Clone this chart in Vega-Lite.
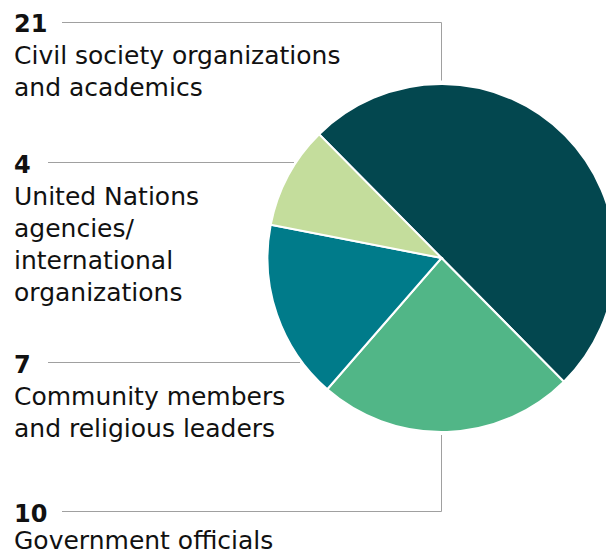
{
  "$schema": "https://vega.github.io/schema/vega-lite/v6.json",
  "width": 606,
  "height": 556,
  "autosize": "none",
  "padding": 0,
  "background": "white",
  "config": {"view": {"stroke": null}},
  "datasets": {
    "slices": [
      {"name": "Civil society organizations and academics", "label": ["Civil society organizations", "and academics"], "value": 21},
      {"name": "Government officials", "label": ["Government officials"], "value": 10},
      {"name": "Community members and religious leaders", "label": ["Community members", "and religious leaders"], "value": 7},
      {"name": "United Nations agencies/international organizations", "label": ["United Nations", "agencies/", "international", "organizations"], "value": 4}
    ]
  },
  "data": {"name": "slices"},
  "layer": [
    {
      "mark": {"type": "arc", "outerRadius": 174, "stroke": "white", "strokeWidth": 2},
      "encoding": {
        "theta": {"field": "value", "type": "quantitative", "stack": true, "scale": {"range": [-0.78, 5.5032]}},
        "order": {"field": "value", "type": "quantitative", "sort": "descending"},
        "color": {"field": "name", "type": "nominal", "legend": null,
          "scale": {"domain": ["Civil society organizations and academics", "Government officials", "Community members and religious leaders", "United Nations agencies/international organizations"],
                    "range": ["#03474f", "#51b687", "#007b8a", "#c4dd9c"]}},
        "x": {"datum": 441.5, "type": "quantitative", "scale": {"domain": [0, 606], "nice": false, "zero": false}, "axis": null},
        "y": {"datum": 258, "type": "quantitative", "scale": {"domain": [0, 556], "nice": false, "zero": false, "reverse": true}, "axis": null}
      }
    },
    {
      "transform": [{"filter": "datum.value == 21"}],
      "layer": [
        {"mark": {"type": "rule", "color": "#a0a0a0", "strokeWidth": 1},
         "encoding": {
           "x": {"datum": 62, "type": "quantitative", "scale": {"domain": [0, 606], "nice": false, "zero": false}, "axis": null},
           "x2": {"datum": 441.5},
           "y": {"datum": 22.5, "type": "quantitative", "scale": {"domain": [0, 556], "nice": false, "zero": false, "reverse": true}, "axis": null}
         }},
        {"mark": {"type": "rule", "color": "#a0a0a0", "strokeWidth": 1},
         "encoding": {
           "x": {"datum": 441.5, "type": "quantitative", "scale": {"domain": [0, 606], "nice": false, "zero": false}, "axis": null},
           "y": {"datum": 22.5, "type": "quantitative", "scale": {"domain": [0, 556], "nice": false, "zero": false, "reverse": true}, "axis": null},
           "y2": {"datum": 80.5}
         }},
        {"mark": {"type": "text", "align": "left", "baseline": "alphabetic", "font": "DejaVu Sans", "fontSize": 24, "fontWeight": "bold", "color": "#111111"},
         "encoding": {
           "text": {"field": "value", "type": "quantitative"},
           "x": {"datum": 14, "type": "quantitative", "scale": {"domain": [0, 606], "nice": false, "zero": false}, "axis": null},
           "y": {"datum": 31.5, "type": "quantitative", "scale": {"domain": [0, 556], "nice": false, "zero": false, "reverse": true}, "axis": null}
         }},
        {"mark": {"type": "text", "align": "left", "baseline": "alphabetic", "font": "DejaVu Sans", "fontSize": 25, "lineHeight": 32, "color": "#111111"},
         "encoding": {
           "text": {"field": "label", "type": "nominal"},
           "x": {"datum": 14, "type": "quantitative", "scale": {"domain": [0, 606], "nice": false, "zero": false}, "axis": null},
           "y": {"datum": 63.5, "type": "quantitative", "scale": {"domain": [0, 556], "nice": false, "zero": false, "reverse": true}, "axis": null}
         }}
      ]
    },
    {
      "transform": [{"filter": "datum.value == 4"}],
      "layer": [
        {"mark": {"type": "rule", "color": "#a0a0a0", "strokeWidth": 1},
         "encoding": {
           "x": {"datum": 48, "type": "quantitative", "scale": {"domain": [0, 606], "nice": false, "zero": false}, "axis": null},
           "x2": {"datum": 294},
           "y": {"datum": 162.5, "type": "quantitative", "scale": {"domain": [0, 556], "nice": false, "zero": false, "reverse": true}, "axis": null}
         }},
        {"mark": {"type": "text", "align": "left", "baseline": "alphabetic", "font": "DejaVu Sans", "fontSize": 24, "fontWeight": "bold", "color": "#111111"},
         "encoding": {
           "text": {"field": "value", "type": "quantitative"},
           "x": {"datum": 14, "type": "quantitative", "scale": {"domain": [0, 606], "nice": false, "zero": false}, "axis": null},
           "y": {"datum": 173, "type": "quantitative", "scale": {"domain": [0, 556], "nice": false, "zero": false, "reverse": true}, "axis": null}
         }},
        {"mark": {"type": "text", "align": "left", "baseline": "alphabetic", "font": "DejaVu Sans", "fontSize": 25, "lineHeight": 32, "color": "#111111"},
         "encoding": {
           "text": {"field": "label", "type": "nominal"},
           "x": {"datum": 14, "type": "quantitative", "scale": {"domain": [0, 606], "nice": false, "zero": false}, "axis": null},
           "y": {"datum": 205, "type": "quantitative", "scale": {"domain": [0, 556], "nice": false, "zero": false, "reverse": true}, "axis": null}
         }}
      ]
    },
    {
      "transform": [{"filter": "datum.value == 7"}],
      "layer": [
        {"mark": {"type": "rule", "color": "#a0a0a0", "strokeWidth": 1},
         "encoding": {
           "x": {"datum": 48, "type": "quantitative", "scale": {"domain": [0, 606], "nice": false, "zero": false}, "axis": null},
           "x2": {"datum": 300},
           "y": {"datum": 362.5, "type": "quantitative", "scale": {"domain": [0, 556], "nice": false, "zero": false, "reverse": true}, "axis": null}
         }},
        {"mark": {"type": "text", "align": "left", "baseline": "alphabetic", "font": "DejaVu Sans", "fontSize": 24, "fontWeight": "bold", "color": "#111111"},
         "encoding": {
           "text": {"field": "value", "type": "quantitative"},
           "x": {"datum": 14, "type": "quantitative", "scale": {"domain": [0, 606], "nice": false, "zero": false}, "axis": null},
           "y": {"datum": 373, "type": "quantitative", "scale": {"domain": [0, 556], "nice": false, "zero": false, "reverse": true}, "axis": null}
         }},
        {"mark": {"type": "text", "align": "left", "baseline": "alphabetic", "font": "DejaVu Sans", "fontSize": 25, "lineHeight": 32, "color": "#111111"},
         "encoding": {
           "text": {"field": "label", "type": "nominal"},
           "x": {"datum": 14, "type": "quantitative", "scale": {"domain": [0, 606], "nice": false, "zero": false}, "axis": null},
           "y": {"datum": 405, "type": "quantitative", "scale": {"domain": [0, 556], "nice": false, "zero": false, "reverse": true}, "axis": null}
         }}
      ]
    },
    {
      "transform": [{"filter": "datum.value == 10"}],
      "layer": [
        {"mark": {"type": "rule", "color": "#a0a0a0", "strokeWidth": 1},
         "encoding": {
           "x": {"datum": 62, "type": "quantitative", "scale": {"domain": [0, 606], "nice": false, "zero": false}, "axis": null},
           "x2": {"datum": 441.5},
           "y": {"datum": 511.5, "type": "quantitative", "scale": {"domain": [0, 556], "nice": false, "zero": false, "reverse": true}, "axis": null}
         }},
        {"mark": {"type": "rule", "color": "#a0a0a0", "strokeWidth": 1},
         "encoding": {
           "x": {"datum": 441.5, "type": "quantitative", "scale": {"domain": [0, 606], "nice": false, "zero": false}, "axis": null},
           "y": {"datum": 435, "type": "quantitative", "scale": {"domain": [0, 556], "nice": false, "zero": false, "reverse": true}, "axis": null},
           "y2": {"datum": 511.5}
         }},
        {"mark": {"type": "text", "align": "left", "baseline": "alphabetic", "font": "DejaVu Sans", "fontSize": 24, "fontWeight": "bold", "color": "#111111"},
         "encoding": {
           "text": {"field": "value", "type": "quantitative"},
           "x": {"datum": 14, "type": "quantitative", "scale": {"domain": [0, 606], "nice": false, "zero": false}, "axis": null},
           "y": {"datum": 522, "type": "quantitative", "scale": {"domain": [0, 556], "nice": false, "zero": false, "reverse": true}, "axis": null}
         }},
        {"mark": {"type": "text", "align": "left", "baseline": "alphabetic", "font": "DejaVu Sans", "fontSize": 25, "lineHeight": 32, "color": "#111111"},
         "encoding": {
           "text": {"field": "label", "type": "nominal"},
           "x": {"datum": 14, "type": "quantitative", "scale": {"domain": [0, 606], "nice": false, "zero": false}, "axis": null},
           "y": {"datum": 549, "type": "quantitative", "scale": {"domain": [0, 556], "nice": false, "zero": false, "reverse": true}, "axis": null}
         }}
      ]
    }
  ]
}
